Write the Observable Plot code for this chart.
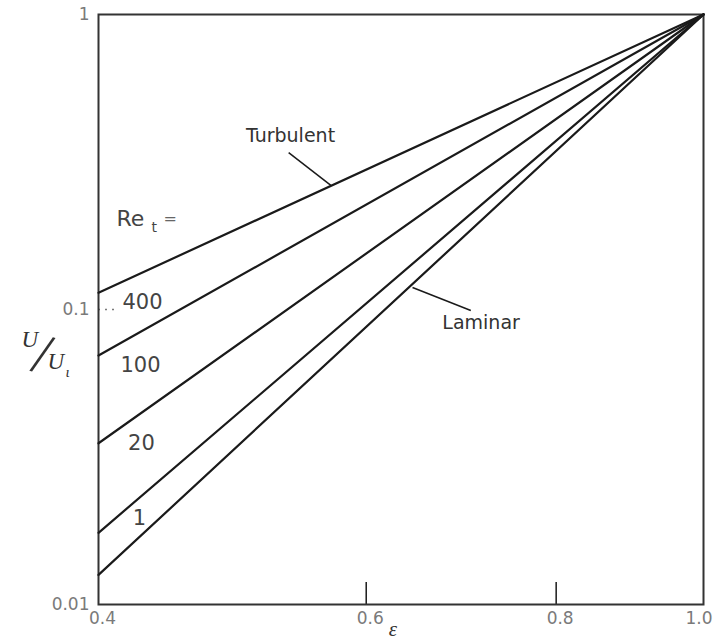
<!DOCTYPE html>
<html>
<head>
<meta charset="utf-8">
<script src="https://cdn.jsdelivr.net/npm/d3@7"></script>
<script src="https://cdn.jsdelivr.net/npm/@observablehq/plot@0.6"></script>
<style>
  html, body { margin: 0; padding: 0; background: #fff; }
  #chart svg { display: block; }
</style>
</head>
<body>
<div id="chart"></div>
<script>
// ---- data (log-log axes) ----
const seriesNames = ["turbulent", "lineB", "lineC", "lineD", "laminar"];
const epsPoints = [0.4, 1.0];
const valuesAtStart = [0.114, 0.0698, 0.0352, 0.0175, 0.0126]; // U/Ui at eps = 0.4
const valuesAtEnd = [1, 1, 1, 1, 1];                             // U/Ui at eps = 1.0

const xTicks = [0.4, 0.6, 0.8];
const xTickLabels = ["0.4", "0.6", "0.8"];
const xLastTick = [1.0];
const xLastTickLabel = ["1.0"];
const yTicks = [0.01, 0.1, 1];
const yTickLabels = ["0.01", "0.1", "1"];
const xInnerTicks = [0.6, 0.8];
const yInnerTicks = [0.1];

const reLabels = ["400", "100", "20", "1"];
const reLabelX = [0.4276, 0.4263, 0.4269, 0.4256];
const reLabelY = [0.1056, 0.0646, 0.0351, 0.01956];

const noteTexts = ["Turbulent", "Laminar"];
const noteX = [0.535, 0.714];
const noteY = [0.389, 0.0904];
const pointerX1 = [0.5335, 0.6436];
const pointerY1 = [0.340, 0.1188];
const pointerX2 = [0.569, 0.703];
const pointerY2 = [0.263, 0.0992];

const reTitleX = [0.411];
const reTitleY = [0.2035];

// ---- build tables ----
const rows = [];
seriesNames.forEach((s, i) => {
  rows.push({series: s, eps: epsPoints[0], v: valuesAtStart[i]});
  rows.push({series: s, eps: epsPoints[1], v: valuesAtEnd[i]});
});
const reRows = reLabels.map((t, i) => ({t, x: reLabelX[i], y: reLabelY[i]}));
const noteRows = noteTexts.map((t, i) => ({t, x: noteX[i], y: noteY[i]}));
const pointerRows = noteTexts.map((t, i) => ({x1: pointerX1[i], y1: pointerY1[i], x2: pointerX2[i], y2: pointerY2[i]}));
const reTitle = reTitleX.map((x, i) => ({x, y: reTitleY[i]}));

const ink = "#1a1a1a";
const grey = "#7a7a7a";
const serif = "Liberation Serif, DejaVu Serif, serif";

const chart = Plot.plot({
  width: 714,
  height: 644,
  marginLeft: 98,
  marginRight: 11,
  marginTop: 14,
  marginBottom: 40,
  style: {background: "#fff", fontFamily: "DejaVu Sans, sans-serif"},
  x: {type: "log", domain: [0.4, 1.0]},
  y: {type: "log", domain: [0.01, 1]},
  marks: [
    Plot.axisX({ticks: xTicks, tickFormat: (d) => xTickLabels[xTicks.indexOf(d)], tickSize: 0, tickPadding: 7, fontSize: 17, fill: grey, label: null, dx: 4}),
    Plot.axisX({ticks: xLastTick, tickFormat: (d) => xLastTickLabel[xLastTick.indexOf(d)], tickSize: 0, tickPadding: 7, fontSize: 17, fill: grey, label: null, textAnchor: "end", dx: 9}),
    Plot.axisY({ticks: yTicks, tickFormat: (d) => yTickLabels[yTicks.indexOf(d)], tickSize: 0, tickPadding: 9, fontSize: 17, fill: grey, label: null}),
    Plot.ruleX(xInnerTicks, {stroke: ink, strokeWidth: 1.5, insetTop: 568}),
    Plot.ruleY(yInnerTicks, {stroke: grey, strokeWidth: 1.5, strokeDasharray: "2,5", insetRight: 585}),
    Plot.frame({stroke: "#333", strokeWidth: 2}),
    Plot.line(rows, {x: "eps", y: "v", z: "series", stroke: ink, strokeWidth: 2.2}),
    Plot.link(pointerRows, {x1: "x1", y1: "y1", x2: "x2", y2: "y2", stroke: ink, strokeWidth: 1.5}),
    Plot.text(noteRows, {x: "x", y: "y", text: "t", fontSize: 19, fill: "#333", style: "letter-spacing: 2.5px"}),
    Plot.text(reRows, {x: "x", y: "y", text: "t", fontSize: 21, fill: "#444", style: "letter-spacing: 2px"}),
    Plot.text(reTitle, {x: "x", y: "y", text: () => "Re", fontSize: 22, fill: "#444", textAnchor: "start", style: "letter-spacing: 1.5px"}),
    Plot.text(reTitle, {x: "x", y: "y", text: () => "t", fontSize: 14, fill: "#444", textAnchor: "start", dx: 35, dy: 9}),
    Plot.text(reTitle, {x: "x", y: "y", text: () => "=", fontSize: 16, fill: "#666", textAnchor: "start", dx: 47}),
    // y-axis label U/Ui
    Plot.text(["U"], {frameAnchor: "left", text: d => d, fontSize: 23, fontStyle: "italic", fontFamily: serif, fill: "#333", dx: -77, dy: 30}),
    Plot.text(["/"], {frameAnchor: "left", text: d => d, fontSize: 58, fontFamily: serif, fill: "#333", rotate: 16, dx: -64, dy: 43}),
    Plot.text(["U"], {frameAnchor: "left", text: d => d, fontSize: 23, fontStyle: "italic", fontFamily: serif, fill: "#333", dx: -51, dy: 52}),
    Plot.text(["ι"], {frameAnchor: "left", text: d => d, fontSize: 15, fontStyle: "italic", fontFamily: serif, fill: "#333", dx: -33, dy: 63}),
    // x-axis label epsilon
    Plot.text(["ε"], {frameAnchor: "bottom", text: d => d, fontSize: 21, fontStyle: "italic", fontFamily: serif, fill: "#333", dx: -8, dy: 31})
  ]
});
document.getElementById("chart").appendChild(chart);
</script>
</body>
</html>
